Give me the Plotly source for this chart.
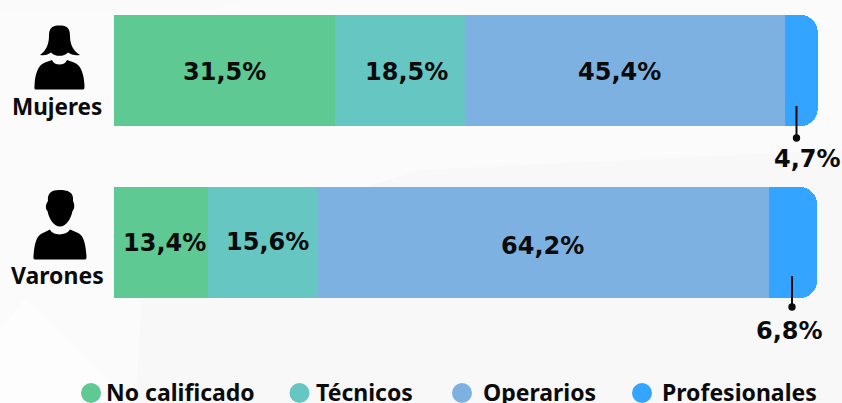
import plotly.graph_objects as go

W, H = 842, 403
groups = ["Mujeres", "Varones"]
series_names = ["No calificado", "Técnicos", "Operarios", "Profesionales"]
no_calificado = [31.5, 13.4]
tecnicos = [18.5, 15.6]
operarios = [45.4, 64.2]
profesionales = [4.7, 6.8]
colors = ["#5ec992", "#66c6c2", "#7db1e2", "#33a4ff"]
all_series = [no_calificado, tecnicos, operarios, profesionales]

BG = "#fbfbfb"
INK = "#0b0b0b"
FONT = "DejaVu Sans"
LABEL_FONT = "Noto Sans"
SCALE = 7.03
X0 = 114
ROW0, ROWSTEP = 70.5, 172


def px(x):
    return x / W


def py(y):
    return 1 - y / H


def fmt(v):
    return f"{v:.1f}".replace(".", ",") + "%"


def path(cmds):
    out = []
    for c in cmds:
        if isinstance(c, str):
            out.append(c)
        else:
            out.append(f"{px(c[0]):.5f},{py(c[1]):.5f}")
    return " ".join(out)


fig = go.Figure()
for name, vals, col in zip(series_names, all_series, colors):
    fig.add_trace(go.Bar(y=groups, x=vals, name=name, orientation="h",
                         marker=dict(color=col, line=dict(width=0)),
                         hoverinfo="skip", showlegend=False))

shapes, ann = [], []

# faint background facets
for pts, col in [
    ([(135, 403), (145, 255), (420, 170), (842, 150), (842, 403)], "#f8f8f8"),
    ([(0, 403), (130, 403), (25, 298), (0, 330)], "#fdfdfd"),
    ([(0, 0), (240, 0), (200, 14), (0, 14)], "#fafafa"),
]:
    cmds = ["M", pts[0]]
    for p in pts[1:]:
        cmds += ["L", p]
    cmds.append("Z")
    shapes.append(dict(type="path", xref="paper", yref="paper", path=path(cmds), layer="below",
                       fillcolor=col, line=dict(width=0)))


def text(t, x, y, size=24, xanchor="center", family=FONT):
    ann.append(dict(text=f"<b>{t}</b>", x=px(x), y=py(y), xref="paper", yref="paper",
                    xanchor=xanchor, yanchor="middle", showarrow=False,
                    font=dict(family=family, size=size, color=INK)))


# value labels inside the bars: group index, series index, pixel centre offset
inside = [(0, 0, 0, 1.5), (0, 1, 6, 1.5), (0, 2, -6, 1.5),
          (1, 0, 3, 0), (1, 1, 4, -1), (1, 2, -1, 3.5)]
for g, s, dx, dy in inside:
    base = sum(all_series[k][g] for k in range(s))
    mid = base + all_series[s][g] / 2
    ann.append(dict(text=f"<b>{fmt(all_series[s][g])}</b>", x=mid, y=groups[g], xref="x", yref="y",
                    xshift=dx, yshift=-dy, showarrow=False,
                    font=dict(family=FONT, size=24, color=INK)))

# callouts
for g, lx, y1, y2, tx, ty in [(0, 796.5, 106, 138, 807, 159), (1, 792, 276, 307, 789.5, 331)]:
    shapes.append(dict(type="line", xref="paper", yref="paper", x0=px(lx), x1=px(lx),
                       y0=py(y1), y1=py(y2), line=dict(color=INK, width=2)))
    shapes.append(dict(type="circle", xref="paper", yref="paper", x0=px(lx - 3.7), x1=px(lx + 3.7),
                       y0=py(y2 - 3.7), y1=py(y2 + 3.7), fillcolor=INK, line=dict(width=0)))
    text(fmt(profesionales[g]), tx, ty)

# group labels
text(groups[0], 56.5, 107, 22.5, family=LABEL_FONT)
text(groups[1], 57, 274.5, 23, family=LABEL_FONT)

# legend
for name, col, cx, tx in zip(series_names, colors, [91, 299.5, 462, 642], [104, 314, 481, 660]):
    shapes.append(dict(type="circle", xref="paper", yref="paper", x0=px(cx - 10), x1=px(cx + 10),
                       y0=py(383), y1=py(403), fillcolor=col, line=dict(width=0)))
    text(name, tx, 391.5, 23, "left", LABEL_FONT)

# woman icon
woman_hair = ["M", (40, 55), "C", (46, 51), (49, 44), (49, 36), "C", (49, 28), (52, 25.5), (59.5, 25.5),
              "C", (67, 25.5), (70, 28), (70, 36), "C", (70, 44), (73, 51), (80, 55),
              "C", (75, 56), (71, 54.5), (68, 52.5), "C", (64, 57), (55, 57), (51, 52.5),
              "C", (48, 54.5), (45, 56), (40, 55), "Z"]
woman_body = ["M", (36, 89.5), "C", (34, 89.5), (34.5, 87), (34.5, 86), "C", (35, 74), (38, 65), (45, 62.5),
              "L", (52, 60), "C", (54, 66), (65, 66), (67, 60), "L", (74, 62.5),
              "C", (81, 65), (84, 74), (84.5, 86), "C", (84.5, 88), (84.5, 89.5), (83, 89.5), "Z"]
# man icon
man_head = ["M", (48, 201), "C", (47, 193), (52, 190), (59, 190), "C", (68, 190), (74, 192), (73, 201),
            "C", (75, 205), (74.5, 209), (72.5, 211), "C", (71, 219), (66, 226.5), (60, 226.5),
            "C", (54, 226.5), (49, 219), (47.5, 211), "C", (45.5, 209), (45, 205), (48, 201), "Z"]
man_body = ["M", (35, 259.5), "C", (33, 259.5), (33.5, 257), (33.5, 256), "C", (34.5, 244), (36, 235), (44, 232.5),
            "L", (50, 229.5), "C", (53, 236), (66, 236), (70, 229.5), "L", (77, 232.5),
            "C", (84, 235), (85.5, 244), (86.5, 256), "C", (86.5, 258), (86.5, 259.5), (85, 259.5), "Z"]
for p in [woman_hair, woman_body, man_head, man_body]:
    shapes.append(dict(type="path", xref="paper", yref="paper", path=path(p),
                       fillcolor="#000000", line=dict(width=0)))

fig.update_layout(
    width=W, height=H, autosize=False,
    margin=dict(l=0, r=0, t=0, b=0),
    paper_bgcolor=BG, plot_bgcolor="rgba(0,0,0,0)",
    barmode="stack", bargap=1 - 111 / ROWSTEP, barcornerradius=17,
    showlegend=False, shapes=shapes, annotations=ann,
    xaxis=dict(range=[-X0 / SCALE, (W - X0) / SCALE], visible=False, fixedrange=True),
    yaxis=dict(type="category", categoryorder="array", categoryarray=groups,
               range=[(H - ROW0) / ROWSTEP, -ROW0 / ROWSTEP], visible=False, fixedrange=True),
)
fig.write_html("out.html", config=dict(displayModeBar=False, responsive=False),
               post_script="document.body.style.margin='0';document.body.style.overflow='hidden';document.body.style.background='#fbfbfb';")
